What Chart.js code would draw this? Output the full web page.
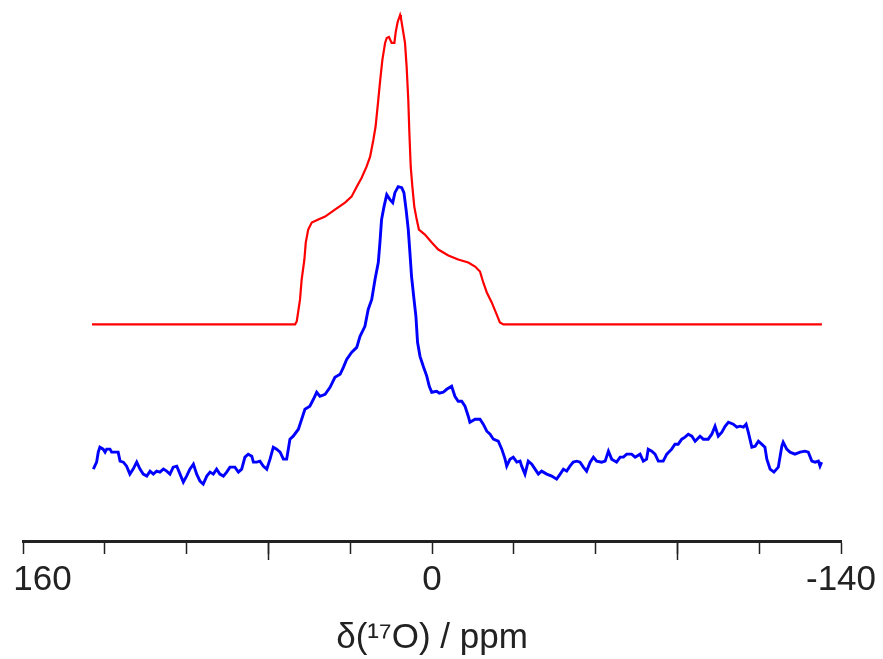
<!DOCTYPE html>
<html>
<head>
<meta charset="utf-8">
<script src="https://cdn.jsdelivr.net/npm/chart.js@4/dist/chart.umd.min.js"></script>
<style>
html,body{margin:0;padding:0;background:#fff;}
#wrap{width:883px;height:659px;position:relative;}
</style>
</head>
<body>
<div id="wrap"><canvas id="c"></canvas></div>
<script>
// chemical shift (ppm) and intensity (arb. units)
const redPpm = [134.7,60.2,59.6,58.4,57.8,56.8,56.3,55.4,54.1,51.7,49.2,45.6,41.9,39.5,37.6,35.8,34.0,32.7,31.5,30.7,29.7,29.1,28.2,27.2,26.6,25.8,24.8,23.8,23.3,22.6,21.7,21.4,20.5,19.9,19.3,18.7,18.3,17.8,17.2,16.5,15.6,14.8,12.6,10.1,7.7,4.0,0.4,-3.3,-5.8,-7.6,-8.8,-10.1,-11.9,-13.7,-14.9,-16.2,-133.0];
const redVal = [217,217,220,242,262,282,299,312,319,322,325,332,339,345,355,364,375,385,402,415,442,459,482,499,504,505,499,499,510,520,527,524,509,499,475,442,409,375,355,335,322,312,307,299,292,286,282,279,275,270,259,249,239,227,219,217,217];

const bluePpm = [134.2,133.0,132.4,131.8,130.6,129.9,129.3,128.1,127.5,125.1,124.4,123.2,122.0,120.8,119.6,118.3,117.1,115.9,114.6,113.4,112.2,111.0,109.8,108.5,107.3,106.1,104.9,103.6,102.4,101.2,100.0,98.8,97.5,96.3,95.1,93.9,92.6,91.4,90.2,89.0,87.8,86.5,85.3,84.1,82.3,81.0,79.8,78.6,77.4,76.1,75.5,74.3,73.1,71.9,70.6,69.4,68.2,67.0,65.7,64.5,63.3,62.7,62.1,60.9,59.0,57.8,56.6,54.8,53.5,52.3,51.1,49.2,47.4,45.6,43.7,42.5,41.3,39.5,37.6,36.4,34.6,33.4,32.1,30.9,29.7,29.1,28.5,27.6,26.6,25.4,24.4,23.6,22.4,21.1,20.3,19.5,18.7,18.1,17.5,16.6,15.9,15.3,14.4,13.2,11.9,11.0,10.1,8.3,7.3,5.9,4.6,2.8,1.6,0.4,-0.9,-2.1,-3.3,-3.9,-5.8,-7.6,-8.8,-10.1,-11.3,-12.5,-14.3,-15.6,-16.8,-17.4,-18.6,-19.8,-21.1,-22.3,-22.9,-24.1,-25.3,-26.6,-27.8,-29.0,-30.2,-32.1,-33.9,-35.7,-37.0,-38.2,-39.4,-40.6,-41.8,-43.1,-44.3,-45.5,-46.7,-48.0,-49.2,-50.4,-52.2,-53.5,-54.7,-55.9,-57.7,-59.0,-60.2,-61.4,-63.2,-64.5,-66.3,-67.5,-68.7,-69.3,-70.6,-71.8,-73.0,-74.8,-76.1,-77.9,-79.1,-80.3,-81.6,-82.8,-84.0,-85.3,-86.5,-88.3,-89.5,-91.3,-92.6,-93.8,-95.0,-96.3,-97.5,-98.7,-100.5,-101.8,-103.0,-104.2,-105.2,-106.0,-107.3,-108.5,-109.7,-110.9,-112.1,-112.8,-114.0,-115.4,-117.0,-118.3,-118.8,-120.1,-121.3,-123.1,-125.0,-126.8,-128.0,-129.3,-130.5,-131.7,-132.3,-132.9];
const blueVal = [72,79,89,94,92,89,92,92,89,89,80,79,75,67,72,79,72,67,65,70,67,70,69,72,70,67,74,75,67,59,65,72,77,67,60,57,65,69,67,72,67,65,69,74,74,69,72,84,87,85,79,79,80,75,72,82,94,92,89,82,82,92,102,105,112,122,132,135,142,149,145,147,154,164,167,174,182,189,194,205,215,232,242,262,279,299,322,335,347,342,339,349,355,354,349,332,312,289,265,242,225,199,185,175,165,155,149,150,148,149,152,155,145,140,140,135,125,119,122,122,117,110,107,102,100,92,82,75,82,84,79,80,75,67,80,77,72,67,70,67,65,62,67,72,70,75,79,80,79,74,70,79,84,80,79,80,90,82,79,84,84,87,87,84,87,80,82,92,90,87,80,80,87,92,97,97,102,104,107,105,100,105,102,102,107,115,105,109,115,119,117,114,115,114,117,109,94,95,100,97,94,82,72,69,74,95,99,92,89,87,89,90,89,80,79,80,75,79];

const tickValues = [160,130,100,70,40,10,-20,-50,-80,-110,-140];
const tickLabels = ['160','','','','','0','','','','','-140'];
const longTickIdx = [3,8];

const toPts = (xs, ys) => xs.map((x,i)=>({x:x, y:ys[i]}));

const longTicks = {
  id:'longTicks',
  afterDraw(chart){
    const s = chart.scales.x, ctx = chart.ctx;
    ctx.save();
    ctx.strokeStyle = '#222';
    ctx.lineWidth = 1.5;
    longTickIdx.forEach(i=>{
      const px = Math.round(s.getPixelForValue(tickValues[i])) + 0.5;
      ctx.beginPath();
      ctx.moveTo(px, s.top);
      ctx.lineTo(px, s.top + 19);
      ctx.stroke();
    });
    ctx.restore();
  }
};

const FONT = '"Liberation Sans", Arial, sans-serif';

new Chart(document.getElementById('c'), {
  type:'scatter',
  data:{
    datasets:[
      {label:'simulation', data:toPts(redPpm, redVal), showLine:true, borderColor:'#ff0000', borderWidth:2.2, pointRadius:0, tension:0},
      {label:'experiment', data:toPts(bluePpm, blueVal), showLine:true, borderColor:'#0000ff', borderWidth:2.9, pointRadius:0, tension:0}
    ]
  },
  options:{
    responsive:true,
    maintainAspectRatio:false,
    animation:false,
    layout:{padding:{top:0,left:23,right:42,bottom:0}},
    plugins:{legend:{display:false}, tooltip:{enabled:false}},
    scales:{
      x:{
        type:'linear', reverse:true, min:-140, max:160,
        afterBuildTicks(scale){ scale.ticks = tickValues.map(v=>({value:v})); },
        afterFit(scale){ scale.paddingLeft = 0; scale.paddingRight = 0; },
        ticks:{
          autoSkip:false, maxRotation:0, padding:5,
          color:'#222',
          font:{family:FONT, size:35},
          callback:(v,i)=> (i===0 ? '\u00a0\u00a0\u00a0\u00a0' : '') + tickLabels[i]
        },
        grid:{drawOnChartArea:false, drawTicks:true, tickLength:13, tickColor:'#222', tickWidth:1.5},
        border:{display:true, color:'#222', width:3},
        title:{display:true, text:'δ(¹⁷O) / ppm', color:'#222',
          font:{family:FONT, size:35},
          padding:{top:11,bottom:0}}
      },
      y:{display:false, min:0, max:542}
    }
  },
  plugins:[longTicks]
});
</script>
</body>
</html>
